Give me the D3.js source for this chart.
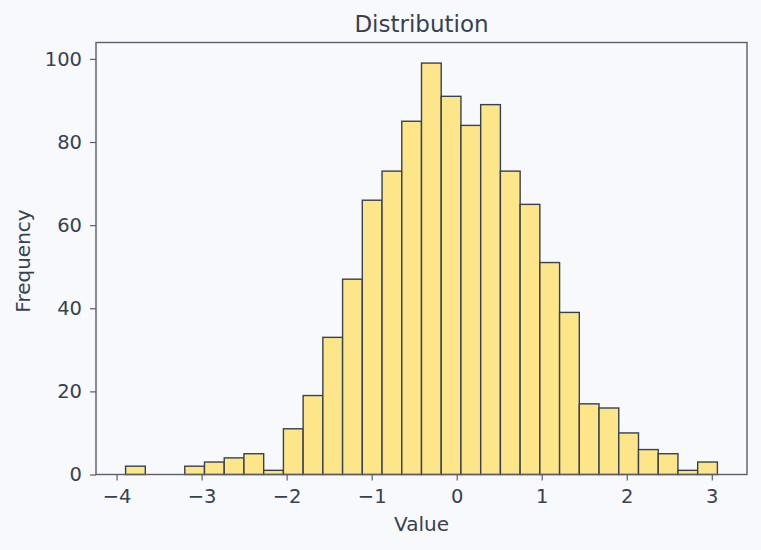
<!DOCTYPE html>
<html>
<head>
<meta charset="utf-8">
<script src="https://cdn.jsdelivr.net/npm/d3@7"></script>
<style>
  body { margin: 0; background: #f8f9fc; }
  text { font-family: "DejaVu Sans", sans-serif; fill: #374151; }
</style>
</head>
<body>
<div id="graphicContainer"></div>
<script>
// histogram: 30 bins between min and max of the sample
var binStart = -3.894;
var binEnd = 3.066;
var counts = [2, 0, 0, 2, 3, 4, 5, 1, 11, 19, 33, 47, 66, 73, 85, 99, 91, 84, 89, 73, 65, 51, 39, 17, 16, 10, 6, 5, 1, 3];
var xTicks = [-4, -3, -2, -1, 0, 1, 2, 3];
var yTicks = [0, 20, 40, 60, 80, 100];

var width = 761, height = 550;
var margin = {top: 42.5, right: 14, bottom: 75.5, left: 96};
var w = width - margin.left - margin.right,
    h = height - margin.top - margin.bottom;

var svg = d3.select("#graphicContainer").append("svg")
    .attr("width", width)
    .attr("height", height);

svg.append("rect").attr("width", width).attr("height", height).attr("fill", "#f8f9fc");

var g = svg.append("g").attr("transform", "translate(" + margin.left + "," + margin.top + ")");

var binW = (binEnd - binStart) / counts.length;
var bins = counts.map(function(c, i) {
    return {x0: binStart + i * binW, x1: binStart + (i + 1) * binW, n: c};
});

var pad = (binEnd - binStart) * 0.05;
var x = d3.scaleLinear().domain([binStart - pad, binEnd + pad]).range([0, w]);
var y = d3.scaleLinear().domain([0, d3.max(counts) * 1.05]).range([h, 0]);

g.selectAll("rect.bar")
    .data(bins.filter(function(d) { return d.n > 0; }))
    .enter()
    .append("rect")
    .attr("class", "bar")
    .attr("x", function(d) { return x(d.x0); })
    .attr("width", function(d) { return x(d.x1) - x(d.x0); })
    .attr("y", function(d) { return y(d.n); })
    .attr("height", function(d) { return y(0) - y(d.n); })
    .attr("fill", "#fde68a")
    .attr("stroke", "#374151")
    .attr("stroke-width", 1.4);

var fmt = function(d) { return d < 0 ? "\u2212" + Math.abs(d) : d; };

var xAxis = g.append("g").attr("transform", "translate(0," + h + ")")
    .call(d3.axisBottom(x).tickValues(xTicks).tickFormat(fmt).tickSize(6).tickPadding(9));
var yAxis = g.append("g")
    .call(d3.axisLeft(y).tickValues(yTicks).tickSize(6).tickPadding(8));

[xAxis, yAxis].forEach(function(a) {
    a.select(".domain").remove();
    a.selectAll(".tick line").attr("stroke", "#5b5f6b").attr("stroke-width", 1.2);
    a.selectAll(".tick text").attr("font-size", 19.5).style("fill", "#374151");
});

// frame
g.append("rect")
    .attr("width", w).attr("height", h)
    .attr("fill", "none")
    .attr("stroke", "#5b5f6b")
    .attr("stroke-width", 1.4);

svg.append("text")
    .attr("x", margin.left + w / 2).attr("y", 32)
    .attr("text-anchor", "middle")
    .attr("font-size", 23)
    .text("Distribution");

svg.append("text")
    .attr("x", margin.left + w / 2).attr("y", 531)
    .attr("text-anchor", "middle")
    .attr("font-size", 20)
    .text("Value");

svg.append("text")
    .attr("transform", "translate(30,261) rotate(-90)")
    .attr("text-anchor", "middle")
    .attr("font-size", 20)
    .text("Frequency");
</script>
</body>
</html>
